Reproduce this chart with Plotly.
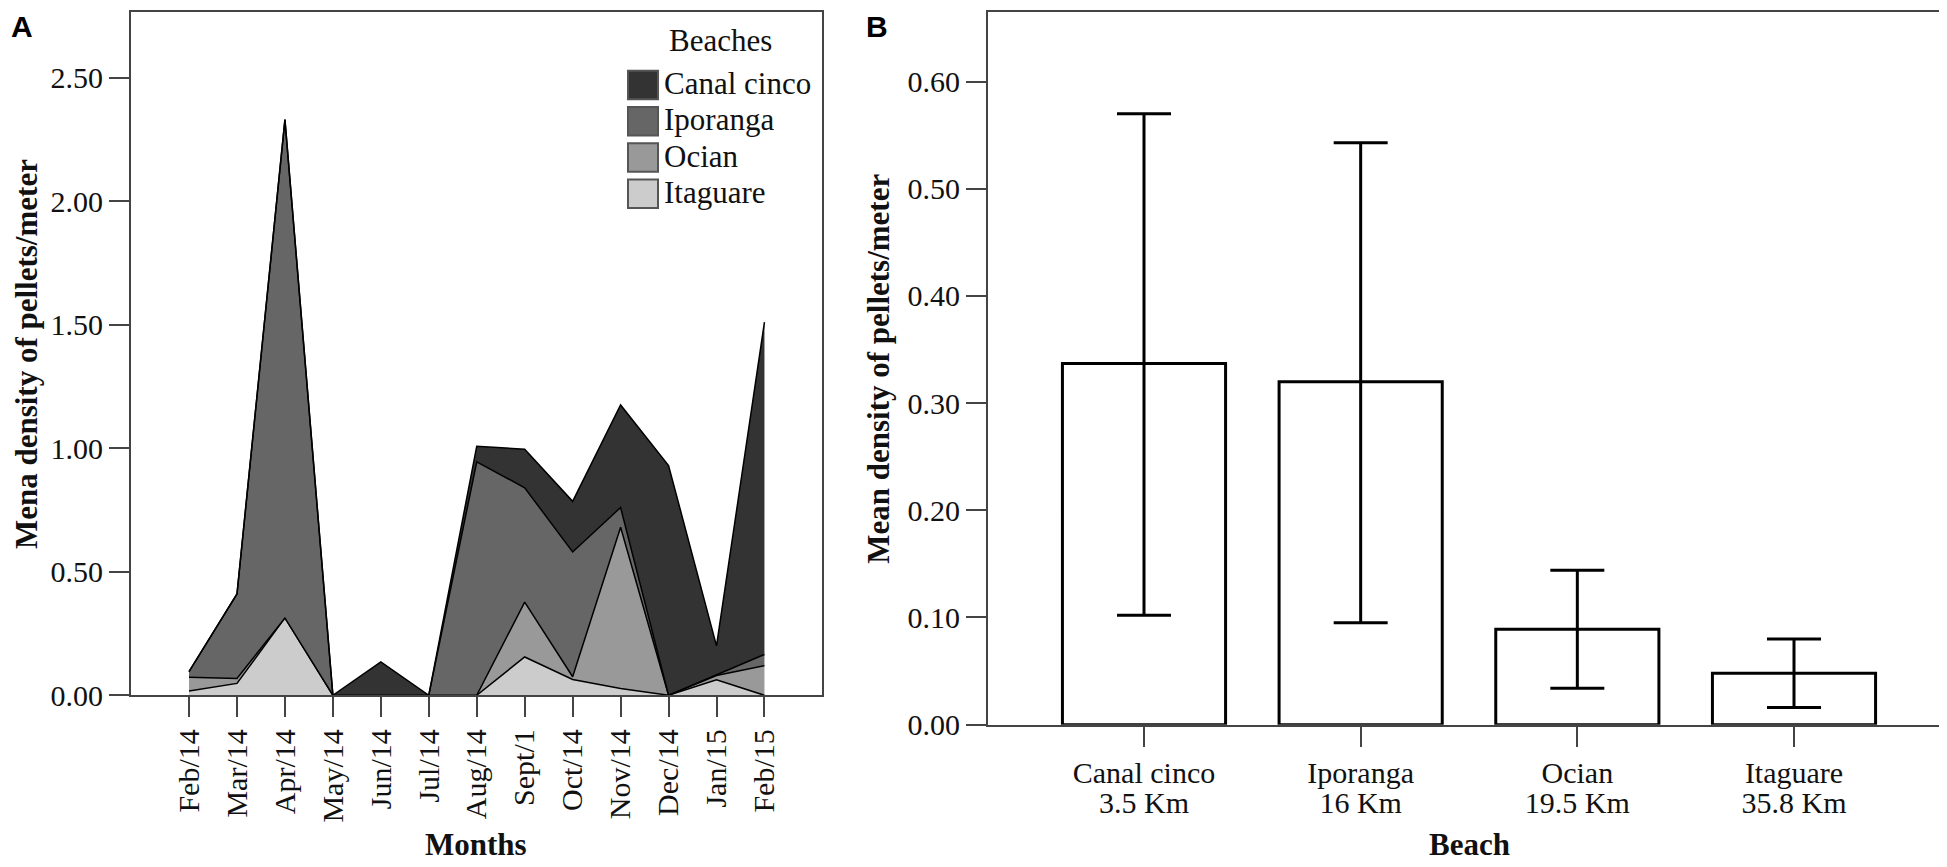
import plotly.graph_objects as go

W, H = 1947, 867

months = ['Feb/14', 'Mar/14', 'Apr/14', 'May/14', 'Jun/14', 'Jul/14', 'Aug/14',
          'Sept/1', 'Oct/14', 'Nov/14', 'Dec/14', 'Jan/15', 'Feb/15']

# stacked monthly densities (bottom to top)
itaguare = [0.017, 0.048, 0.313, 0, 0, 0, 0, 0.155, 0.064, 0.027, 0, 0.063, 0]
ocian = [0.056, 0.020, 0, 0, 0, 0, 0, 0.222, 0.011, 0.653, 0, 0.017, 0.120]
iporanga = [0.023, 0.342, 2.017, 0, 0, 0, 0.945, 0.463, 0.505, 0.080, 0, 0.003, 0.045]
canal_cinco = [0, 0, 0, 0, 0.135, 0, 0.063, 0.156, 0.205, 0.415, 0.930, 0.117, 1.345]

beaches = ['Canal cinco', 'Iporanga', 'Ocian', 'Itaguare']
distances = ['3.5 Km', '16 Km', '19.5 Km', '35.8 Km']
mean_density = [0.337, 0.320, 0.089, 0.048]
ci_low = [0.102, 0.095, 0.034, 0.016]
ci_high = [0.570, 0.543, 0.144, 0.080]

greys = {'Canal cinco': '#333333', 'Iporanga': '#666666',
         'Ocian': '#999999', 'Itaguare': '#cccccc'}


def px(x):
    return x / W


def py(y):
    return 1 - y / H


serif = 'Liberation Serif'
fig = go.Figure()

series = {'Itaguare': itaguare, 'Ocian': ocian, 'Iporanga': iporanga, 'Canal cinco': canal_cinco}
for name, vals in series.items():
    fig.add_trace(go.Scatter(x=months, y=vals, name=name, stackgroup='one', mode='lines',
                             line=dict(color='black', width=1.5), fillcolor=greys[name],
                             showlegend=False, xaxis='x', yaxis='y'))

fig.add_trace(go.Bar(x=beaches, y=mean_density, width=0.753,
                     marker=dict(color='white', line=dict(color='black', width=3)),
                     error_y=dict(type='data', symmetric=False,
                                  array=[h - m for h, m in zip(ci_high, mean_density)],
                                  arrayminus=[m - l for m, l in zip(mean_density, ci_low)],
                                  color='black', thickness=3, width=27),
                     showlegend=False, xaxis='x2', yaxis='y2'))

# invisible helper so the overlaying axis with the distances gets drawn
fig.add_trace(go.Scatter(x=list(range(len(distances))), y=mean_density, mode='markers',
                         marker=dict(opacity=0), hoverinfo='skip', showlegend=False,
                         xaxis='x3', yaxis='y2'))

axis_style = dict(showline=True, mirror=True, linecolor='#444', linewidth=2,
                  ticks='outside', ticklen=20, tickwidth=2, tickcolor='#444',
                  showgrid=False, zeroline=False,
                  tickfont=dict(family=serif, size=30, color='#111'))

fig.update_layout(
    width=W, height=H, margin=dict(l=0, r=0, t=0, b=0),
    paper_bgcolor='white', plot_bgcolor='white', showlegend=False,
    font=dict(family=serif),
    xaxis=dict(domain=[px(123), px(814)], range=[-1.21, 13.2], type='category',
               tickangle=-90, **axis_style),
    yaxis=dict(domain=[py(701), py(4)], range=[0, 2.766], dtick=0.5, tickformat='.2f',
               **axis_style),
    xaxis2=dict(domain=[px(980), px(1942)], range=[-0.72, 3.72], type='category',
                anchor='y2', **axis_style),
    yaxis2=dict(domain=[py(731), py(4)], range=[0, 0.665], dtick=0.1, tickformat='.2f',
                anchor='x2', **axis_style),
    # second line of the beach labels (distance)
    xaxis3=dict(overlaying='x2', anchor='y2', range=[-0.72, 3.72], type='linear',
                tickvals=list(range(len(distances))), ticktext=distances,
                ticks='outside', ticklen=51, tickcolor='rgba(0,0,0,0)',
                showline=False, showgrid=False, zeroline=False,
                tickfont=dict(family=serif, size=30, color='#111')),
)

title_font = dict(family=serif, size=31, color='#111')
notes = [
    dict(text='<b>Mena density of pellets/meter</b>', x=px(18), y=py(353), textangle=-90),
    dict(text='<b>Months</b>', x=px(468), y=py(853)),
    dict(text='<b>Mean density of pellets/meter</b>', x=px(871), y=py(368), textangle=-90),
    dict(text='<b>Beach</b>', x=px(1461), y=py(853)),
]
for n in notes:
    fig.add_annotation(xref='paper', yref='paper', xanchor='center', yanchor='middle',
                       showarrow=False, font=title_font, **n)

for letter, lx in [('A', 14), ('B', 869)]:
    fig.add_annotation(text=f'<b>{letter}</b>', xref='paper', yref='paper', x=px(lx), y=py(19),
                       xanchor='center', yanchor='middle', showarrow=False,
                       font=dict(family='Liberation Sans', size=30, color='black'))

# legend for the stacked areas
fig.add_annotation(text='Beaches', xref='paper', yref='paper', x=px(712), y=py(33),
                   xanchor='center', yanchor='middle', showarrow=False,
                   font=dict(family=serif, size=31, color='#111'))
for i, name in enumerate(beaches):
    top = 64 + 37 * i
    fig.add_shape(type='rect', xref='paper', yref='paper', x0=px(620), x1=px(650),
                  y0=py(top + 29), y1=py(top), fillcolor=greys[name],
                  line=dict(color='#555', width=2))
    fig.add_annotation(text=name, xref='paper', yref='paper', x=px(654), y=py(top + 13),
                       xanchor='left', yanchor='middle', showarrow=False,
                       font=dict(family=serif, size=31, color='#111'))

fig.write_html('out.html')
